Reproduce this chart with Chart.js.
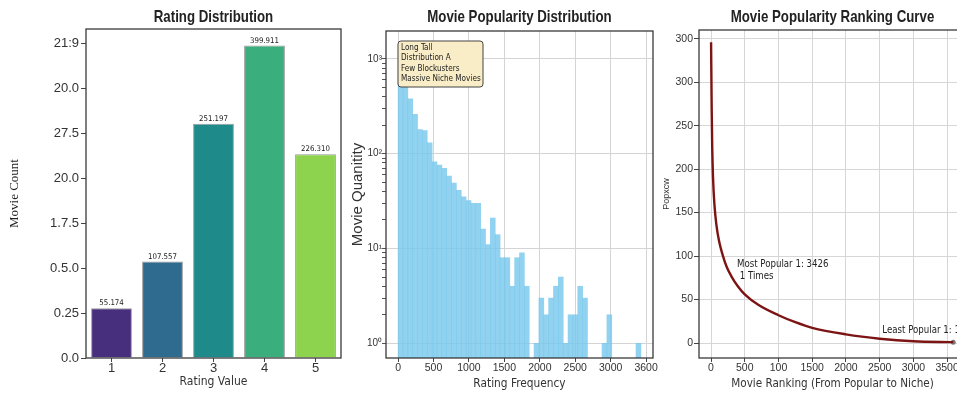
<!DOCTYPE html>
<html>
<head>
<meta charset="utf-8">
<title>Movie rating charts</title>
<script src="https://cdn.jsdelivr.net/npm/chart.js@4.4.1/dist/chart.umd.min.js"></script>
<style>
  html, body { margin: 0; padding: 0; background: #fff; }
  body { width: 957px; height: 399px; overflow: hidden; position: relative; }
  canvas { position: absolute; top: 0; }
  #ratingChart { left: 0; }
  #freqChart { left: 345px; }
  #rankChart { left: 660px; }
</style>
</head>
<body>
<canvas id="ratingChart" width="345" height="399"></canvas>
<canvas id="freqChart" width="315" height="399"></canvas>
<canvas id="rankChart" width="320" height="399"></canvas>
<script>
// --- rating distribution (bar heights in axis tick units, as drawn) ---
const ratingCategories = ['1', '2', '3', '4', '5'];
const ratingBarHeights = [1.11, 2.15, 5.22, 6.96, 4.54];
const ratingCountLabels = ['55.174', '107.557', '251.197', '399.911', '226.310'];
const ratingBarColors = ['#472f7d', '#2e6b8e', '#1f8a8a', '#3aae7c', '#8dd34e'];
const ratingTickLabels = ['0.0', '0.25', '0.5.0', '1.7.5', '20.0', '27.5', '20.0', '21:9'];

// --- popularity histogram (50 bins) ---
const freqBinStart = 1;
const freqBinWidth = 68.5;
const freqBinCounts = [1400, 700, 380, 260, 180, 175, 130, 82, 76, 70,
                       58, 49, 41, 35, 32, 30, 30, 16, 11, 21,
                       14, 8, 8, 4, 8, 9, 4, 0, 1, 3,
                       2, 3, 4, 5, 1, 2, 2, 4, 3, 0,
                       0, 0, 1, 2, 0, 0, 0, 0, 0, 1];
const freqTickValues = [0, 500, 1000, 1500, 2000, 2500, 3000, 3500];
const freqTickLabels = ['0', '500', '1000', '1500', '2000', '2500', '3000', '3600'];
const logMajorValues = [1, 10, 100, 1000];
const logMajorLabels = ['10\u2070', '10\u00b9', '10\u00b2', '10\u00b3'];
const logMinorValues = [2, 3, 4, 5, 6, 7, 8, 9, 20, 30, 40, 50, 60, 70, 80, 90,
                        200, 300, 400, 500, 600, 700, 800, 900];
const longTailLines = ['Long Tall', 'Distribution A', 'Few Blockusters', 'Massive Niche Movies'];

// --- ranking curve ---
const rankPositions = [1, 4, 10, 18, 30, 50, 80, 120, 170, 230, 300, 400, 500, 700, 1000, 1250, 1500, 2000, 2500, 3000, 3590];
const rankRatings = [346, 320, 270, 225, 190, 160, 136, 117, 102, 88, 77, 65, 56, 44, 32, 24, 17.5, 10, 5, 2, 1];
const rankTickValues = [0, 500, 1000, 1500, 2000, 2500, 3000, 3500];
const rankTickLabels = ['0', '500', '100', '1500', '2000', '2500', '3000', '3500'];
const rankYTickValues = [0, 50, 100, 150, 200, 250, 300, 350];
const rankYTickLabels = ['0', '50', '100', '150', '200', '250', '300', '300'];

const SANS = "'Liberation Sans', Arial, sans-serif";
const COND = "'DejaVu Sans Condensed', 'Liberation Sans', sans-serif";
const SERIF = "'Liberation Serif', 'Times New Roman', serif";

const fixedTicks = (values) => (axis) => { axis.ticks = values.map(v => ({ value: v })); };

// plot box around the chart area
const framePlugin = {
  id: 'frame',
  afterDraw(chart) {
    const { ctx, chartArea: a } = chart;
    ctx.save();
    ctx.strokeStyle = '#3a3a3a';
    ctx.lineWidth = 1.3;
    ctx.strokeRect(a.left, a.top, a.right - a.left, a.bottom - a.top);
    ctx.restore();
  }
};

// title centred over the plot box, squeezed like a condensed face
const panelTitle = {
  id: 'panelTitle',
  afterDraw(chart, args, opts) {
    const { ctx, chartArea: a } = chart;
    ctx.save();
    ctx.translate((a.left + a.right) / 2, 17.5);
    ctx.scale(0.8, 1);
    ctx.font = `bold 16.6px ${SANS}`;
    ctx.fillStyle = '#222';
    ctx.textAlign = 'center';
    ctx.textBaseline = 'middle';
    ctx.fillText(opts.text, 0, 0);
    ctx.restore();
  }
};

const barValueLabels = {
  id: 'barValueLabels',
  afterDatasetsDraw(chart) {
    const { ctx } = chart;
    ctx.save();
    ctx.font = `7.8px ${COND}`;
    ctx.fillStyle = '#222';
    ctx.textAlign = 'center';
    ctx.textBaseline = 'bottom';
    chart.getDatasetMeta(0).data.forEach((bar, i) => {
      ctx.fillText(ratingCountLabels[i], bar.x, bar.y - 1);
    });
    ctx.restore();
  }
};

const longTailNote = {
  id: 'longTailNote',
  afterDraw(chart) {
    const { ctx, chartArea: a } = chart;
    const x = a.left + 12, y = a.top + 10, w = 85, h = 46;
    ctx.save();
    ctx.beginPath();
    ctx.roundRect(x, y, w, h, 3);
    ctx.fillStyle = '#f8edc6';
    ctx.fill();
    ctx.strokeStyle = '#444';
    ctx.lineWidth = 1;
    ctx.stroke();
    ctx.font = `8.1px ${COND}`;
    ctx.fillStyle = '#222';
    ctx.textBaseline = 'middle';
    longTailLines.forEach((t, i) => ctx.fillText(t, x + 3, y + 7 + i * 10.3));
    ctx.restore();
  }
};

const rankNotes = {
  id: 'rankNotes',
  afterDatasetsDraw(chart) {
    const { ctx, scales: { x, y } } = chart;
    ctx.save();
    ctx.font = `9.6px ${COND}`;
    ctx.fillStyle = '#222';
    ctx.textBaseline = 'middle';
    ctx.fillText('Most Popular 1: 3426', x.getPixelForValue(385), y.getPixelForValue(90));
    ctx.fillText(' 1 Times', x.getPixelForValue(385), y.getPixelForValue(76));
    ctx.fillText('Least Popular 1: 1', x.getPixelForValue(2540), y.getPixelForValue(14));
    ctx.restore();
  }
};

const baseOptions = (padRight, padTop) => ({
  responsive: false,
  devicePixelRatio: 1,
  animation: false,
  layout: { padding: { left: 0, right: padRight, top: padTop, bottom: 0 } }
});

// --- Chart 1: rating distribution ---
new Chart(document.getElementById('ratingChart'), {
  type: 'bar',
  data: {
    labels: ratingCategories,
    datasets: [{
      data: ratingBarHeights,
      backgroundColor: ratingBarColors,
      borderColor: 'rgba(30,30,30,0.45)',
      borderWidth: 1,
      barPercentage: 0.8,
      categoryPercentage: 1.0
    }]
  },
  options: {
    ...baseOptions(4, 29),
    plugins: {
      legend: { display: false }, tooltip: { enabled: false },
      panelTitle: { text: 'Rating Distribution' }
    },
    scales: {
      x: {
        afterFit: (s) => { s.height = 41; },
        grid: { drawOnChartArea: false, offset: false, tickLength: 4, tickColor: '#444' },
        border: { display: false },
        ticks: { color: '#333', font: { family: SANS, size: 13 }, padding: -1 },
        title: { display: true, text: 'Rating Value', color: '#333',
                 font: { family: COND, size: 12 }, padding: { top: 0, bottom: 10 } }
      },
      y: {
        min: 0, max: 7.33,
        afterFit: (s) => { s.width = 86; },
        afterBuildTicks: fixedTicks(ratingTickLabels.map((_, i) => i)),
        grid: { drawOnChartArea: false, tickLength: 5, tickColor: '#444' },
        border: { display: false },
        ticks: { color: '#333', font: { family: SANS, size: 13 }, padding: 2, autoSkip: false,
                 callback: (v, i) => ratingTickLabels[i] },
        title: { display: true, text: 'Movie Count', color: '#222',
                 font: { family: SERIF, size: 13 }, padding: { top: 7, bottom: 0 } }
      }
    }
  },
  plugins: [barValueLabels, panelTitle, framePlugin]
});

// --- Chart 2: popularity histogram ---
new Chart(document.getElementById('freqChart'), {
  type: 'bar',
  data: {
    datasets: [{
      data: freqBinCounts.map((c, i) => ({ x: freqBinStart + freqBinWidth * (i + 0.5), y: c > 0 ? c : null })),
      backgroundColor: 'rgba(120,200,235,0.82)',
      borderWidth: 0,
      barPercentage: 1.0,
      categoryPercentage: 1.0
    }]
  },
  options: {
    ...baseOptions(7, 31),
    plugins: {
      legend: { display: false }, tooltip: { enabled: false },
      panelTitle: { text: 'Movie Popularity Distribution' }
    },
    scales: {
      x: {
        type: 'linear', min: -170, max: 3597, offset: false,
        afterFit: (s) => { s.height = 41; },
        afterBuildTicks: fixedTicks(freqTickValues),
        grid: { color: '#d4d4d4', offset: false, tickLength: 4, tickColor: '#444' },
        border: { display: false },
        ticks: { color: '#333', font: { family: SANS, size: 10.5 }, padding: 0, autoSkip: false,
                 maxRotation: 0, callback: (v, i) => freqTickLabels[i] },
        title: { display: true, text: 'Rating Frequency', color: '#333',
                 font: { family: COND, size: 11.8 }, padding: { top: 0, bottom: 8 } }
      },
      y: {
        type: 'logarithmic', min: 0.73, max: 1970,
        afterFit: (s) => { s.width = 41; },
        afterBuildTicks: fixedTicks([...logMajorValues, ...logMinorValues].sort((a, b) => a - b)),
        grid: {
          color: (c) => (c.tick && logMajorValues.includes(c.tick.value)) ? '#d4d4d4' : 'rgba(0,0,0,0)',
          tickLength: 4, tickColor: '#555'
        },
        border: { display: false },
        ticks: { color: '#333', font: { family: SANS, size: 10 }, padding: 0, autoSkip: false,
                 callback: (v) => { const k = logMajorValues.indexOf(v); return k >= 0 ? logMajorLabels[k] : ''; } },
        title: { display: true, text: 'Movie Quanitity', color: '#333',
                 font: { family: SANS, size: 15 }, padding: { top: 4, bottom: 0 } }
      }
    }
  },
  plugins: [longTailNote, panelTitle, framePlugin]
});

// --- Chart 3: ranking curve ---
new Chart(document.getElementById('rankChart'), {
  type: 'line',
  data: {
    datasets: [{
      data: rankPositions.map((r, i) => ({ x: r, y: rankRatings[i] })),
      borderColor: '#7d1414',
      borderWidth: 2.4,
      pointRadius: 0,
      cubicInterpolationMode: 'monotone',
      fill: false
    }, {
      data: [{ x: rankPositions[rankPositions.length - 1], y: rankRatings[rankRatings.length - 1] }],
      showLine: false,
      pointRadius: 2.5,
      pointBackgroundColor: '#777',
      pointBorderWidth: 0
    }]
  },
  options: {
    ...baseOptions(14, 30),
    plugins: {
      legend: { display: false }, tooltip: { enabled: false },
      panelTitle: { text: 'Movie Popularity Ranking Curve' }
    },
    scales: {
      x: {
        type: 'linear', min: -178, max: 3780,
        afterFit: (s) => { s.height = 41; },
        afterBuildTicks: fixedTicks(rankTickValues),
        grid: { color: '#d6d6d6', tickLength: 4, tickColor: '#444' },
        border: { display: false },
        ticks: { color: '#333', font: { family: SANS, size: 10.5 }, padding: 0, autoSkip: false,
                 maxRotation: 0, callback: (v, i) => rankTickLabels[i] },
        title: { display: true, text: 'Movie Ranking (From Popular to Niche)', color: '#333',
                 font: { family: COND, size: 11.6 }, padding: { top: 0, bottom: 8 } }
      },
      y: {
        min: -17.2, max: 360,
        afterFit: (s) => { s.width = 39; },
        afterBuildTicks: fixedTicks(rankYTickValues),
        grid: { color: '#d6d6d6', tickLength: 5, tickColor: '#444' },
        border: { display: false },
        ticks: { color: '#333', font: { family: SANS, size: 10.5 }, padding: 1, autoSkip: false,
                 callback: (v, i) => rankYTickLabels[i] },
        title: { display: true, text: 'Popxcw', color: '#333',
                 font: { family: SANS, size: 9 }, padding: { top: 1, bottom: 0 } }
      }
    }
  },
  plugins: [rankNotes, panelTitle, framePlugin]
});
</script>
</body>
</html>
